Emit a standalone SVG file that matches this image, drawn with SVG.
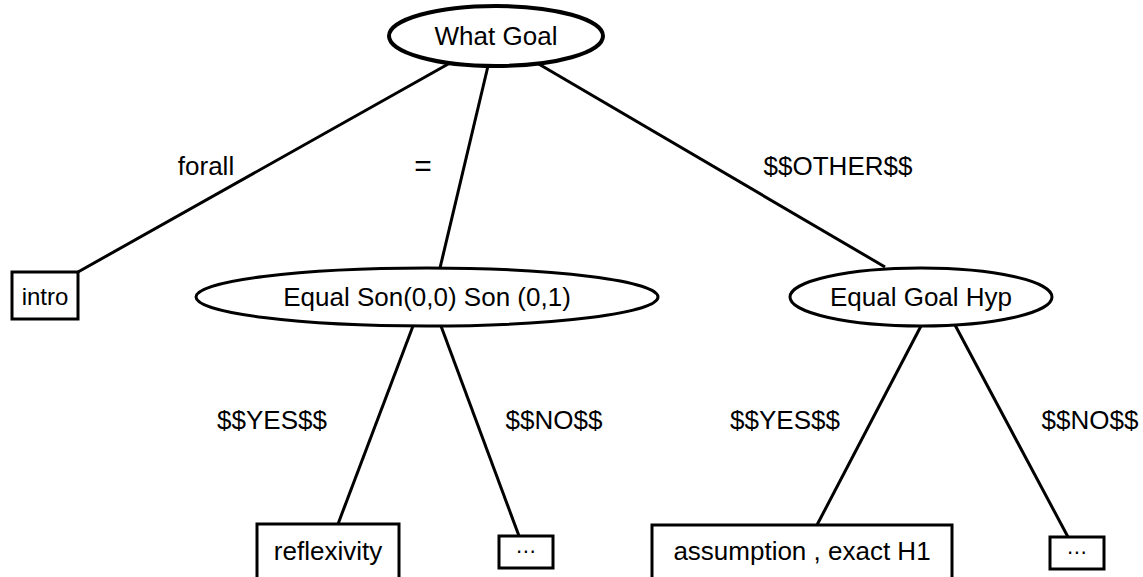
<svg xmlns="http://www.w3.org/2000/svg" width="1143" height="577" viewBox="0 0 1143 577">
<style>
text{font-family:"Liberation Sans",Arial,sans-serif;font-size:26px;fill:#000;text-anchor:middle}
.n{fill:#fff;stroke:#000;stroke-width:3}
.root{fill:#fff;stroke:#000;stroke-width:4}
.e{stroke:#000;stroke-width:3;fill:none}
.dots{font-family:"DejaVu Sans",sans-serif;font-size:20px}
</style>
<rect width="1143" height="577" fill="#fff"/>
<g id="edges">
<line class="e" x1="450" y1="63" x2="78" y2="272"/>
<line class="e" x1="488" y1="66" x2="440" y2="268"/>
<line class="e" x1="537" y1="63" x2="885" y2="267"/>
<line class="e" x1="413" y1="326" x2="338" y2="524"/>
<line class="e" x1="441" y1="326" x2="519" y2="536"/>
<line class="e" x1="921" y1="326" x2="817" y2="525"/>
<line class="e" x1="955" y1="325" x2="1068" y2="537"/>
<text x="206" y="175">forall</text>
<text x="423" y="176" style="font-size:30px">=</text>
<text x="838" y="175">$$OTHER$$</text>
<text x="272" y="429">$$YES$$</text>
<text x="554" y="429">$$NO$$</text>
<text x="785" y="429">$$YES$$</text>
<text x="1090" y="429">$$NO$$</text>
</g>
<g id="what-goal">
<ellipse class="root" cx="496" cy="36" rx="107" ry="30"/>
<text x="496" y="45">What Goal</text>
</g>
<g id="intro">
<rect class="n" x="12" y="272" width="66" height="47"/>
<text x="45" y="305" style="font-size:24px">intro</text>
</g>
<g id="equal-son">
<ellipse class="n" cx="427" cy="297" rx="231" ry="29"/>
<text x="427" y="306">Equal Son(0,0) Son (0,1)</text>
</g>
<g id="equal-goal-hyp">
<ellipse class="n" cx="921" cy="297" rx="131" ry="29"/>
<text x="921" y="306">Equal Goal Hyp</text>
</g>
<g id="reflexivity">
<rect class="n" x="257" y="524" width="142" height="80"/>
<text x="328" y="560">reflexivity</text>
</g>
<g id="dots1">
<rect class="n" x="499" y="536" width="54" height="32"/>
<text class="dots" x="526" y="558">⋯</text>
</g>
<g id="assumption">
<rect class="n" x="652" y="525" width="300" height="80"/>
<text x="802" y="560">assumption , exact H1</text>
</g>
<g id="dots2">
<rect class="n" x="1050" y="537" width="54" height="32"/>
<text class="dots" x="1077" y="559">⋯</text>
</g>
</svg>
